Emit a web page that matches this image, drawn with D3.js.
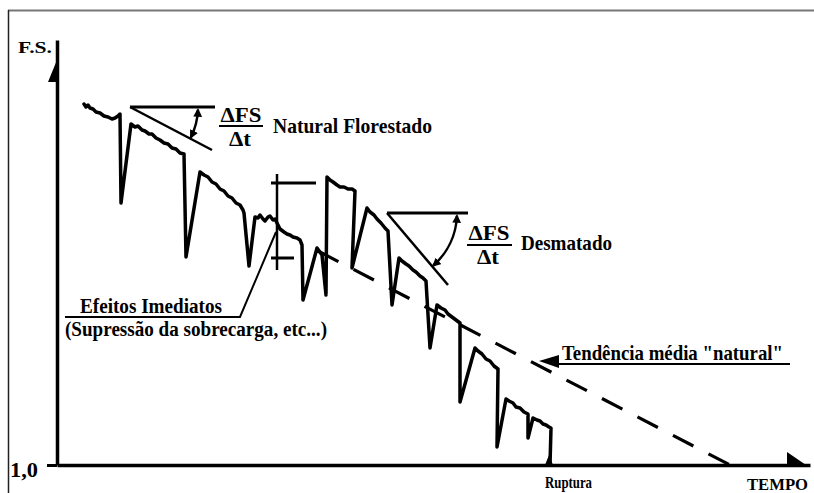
<!DOCTYPE html>
<html><head><meta charset="utf-8">
<script src="https://cdn.jsdelivr.net/npm/d3@7"></script>
<style>
html,body{margin:0;padding:0;background:#fff;} svg{display:block;}
svg text{font-family:"Liberation Serif","DejaVu Serif","Times New Roman",Times,serif;font-weight:bold;}
</style>
</head><body>
<script>
// ---- data (time in arbitrary units, F.S. values) ----
const curveTime = [
  2.7,2.9,3.1,3.3,3.6,3.9,4.3,4.7,5.1,5.5,5.8,6.1,6.3,6.4,
  7.4,7.8,8.1,8.5,8.8,9.2,9.5,9.9,10.3,10.7,11.1,11.5,11.9,12.3,12.7,12.9,
  14.3,14.7,15.1,15.5,15.9,16.3,16.7,17.1,17.5,17.9,18.3,18.6,18.7,19.2,
  19.8,20.1,20.3,20.6,20.8,21.1,21.3,21.6,21.8,22.1,22.3,22.7,23.0,23.3,23.6,24.0,24.3,24.5,24.6,
  26.0,26.5,26.9,27.0,
  27.3,27.6,28.0,28.3,28.7,29.1,29.5,29.8,29.5,
  31.0,31.3,31.7,32.0,32.4,32.8,33.1,33.5,
  34.2,34.5,34.9,35.2,35.6,35.9,36.3,36.6,36.9,37.3,
  38.0,38.4,38.8,39.1,39.5,39.9,40.3,40.3,
  41.8,42.1,42.5,42.9,43.3,43.7,44.1,44.0,
  44.9,45.2,45.6,45.9,46.3,46.7,47.1,47.1,
  47.6,48.0,48.3,48.6,48.9,49.2,49.4,49.3];
const curveFS = [
  4.61,4.58,4.60,4.57,4.56,4.53,4.52,4.49,4.48,4.46,4.47,4.49,4.51,3.62,
  4.41,4.38,4.39,4.35,4.34,4.31,4.31,4.27,4.25,4.22,4.21,4.17,4.16,4.12,4.11,3.08,
  3.93,3.90,3.88,3.83,3.81,3.76,3.74,3.69,3.67,3.62,3.60,3.55,3.52,2.99,
  3.48,3.47,3.50,3.46,3.44,3.48,3.49,3.45,3.46,3.40,3.36,3.33,3.31,3.30,3.28,3.27,3.25,3.20,2.65,
  3.17,3.10,2.70,3.88,
  3.85,3.83,3.80,3.78,3.78,3.76,3.76,3.74,2.97,
  3.57,3.53,3.50,3.46,3.42,3.37,3.34,2.60,
  3.07,3.04,3.01,2.99,2.95,2.93,2.89,2.87,2.84,2.17,
  2.60,2.57,2.55,2.51,2.48,2.45,2.42,1.63,
  2.17,2.14,2.11,2.06,2.04,1.99,1.96,1.18,
  1.66,1.64,1.62,1.58,1.57,1.53,1.51,1.27,
  1.47,1.45,1.44,1.41,1.40,1.38,1.37,1.00];
const trendTime = [26.1, 67.3];
const trendFS = [3.14, 1.00];
const slopeForestTime = [7.3, 15.8, 15.5];   // vertex, horizontal end, slope end
const slopeForestFS = [4.58, 4.58, 4.15];
const slopeDeforTime = [33.0, 41.1, 39.1];
const slopeDeforFS = [3.52, 3.52, 2.80];
const jumpTime = [22.0, 21.4, 25.9, 23.7];    // marker x, bar start, top bar end, bottom bar end
const jumpFS = [3.91, 2.95, 3.82, 3.07];      // marker top, marker bottom, top bar, bottom bar
const ruptureTime = [49.2];
const yTicks = [1.0];
const yTickLabels = ["1,0"];
const axisTitles = ["F.S.", "TEMPO"];
const labels = ["Natural  Florestado", "Desmatado", "Tendência média \"natural\"",
  "Efeitos Imediatos", "(Supressão da sobrecarga, etc...)", "Ruptura"];

const W = 814, H = 493;
const svg = d3.select("body").append("svg").attr("width", W).attr("height", H);
svg.append("rect").attr("width", W).attr("height", H).attr("fill", "#fff");

const x = d3.scaleLinear().domain([0, 75.3]).range([57, 810]);
const y = d3.scaleLinear().domain([1.0, 5.25]).range([465, 40]);

// frame
svg.append("line").attr("x1", 8).attr("x2", W).attr("y1", 10.5).attr("y2", 10.5)
  .attr("stroke", "#777").attr("stroke-width", 2);
svg.append("line").attr("x1", 8.5).attr("x2", 8.5).attr("y1", 10).attr("y2", H)
  .attr("stroke", "#222").attr("stroke-width", 1.5);

// axes
const yAxis = svg.append("g").attr("transform", `translate(${x(0)},0)`)
  .call(d3.axisLeft(y).tickValues(yTicks).tickFormat((d, i) => yTickLabels[i]).tickSize(10).tickSizeOuter(0));
yAxis.attr("font-family", null);
yAxis.select(".domain").attr("stroke", "#000").attr("stroke-width", 3.5);
yAxis.selectAll(".tick line").attr("stroke", "#000").attr("stroke-width", 3);
yAxis.selectAll(".tick text").attr("font-size", 21)
  .attr("fill", "#000").attr("x", -19).attr("dy", "0.55em")
  .attr("textLength", 28).attr("lengthAdjust", "spacingAndGlyphs");

const xAxis = svg.append("g").attr("transform", `translate(0,${y(1.0)})`)
  .call(d3.axisBottom(x).tickValues([]).tickSizeOuter(0));
xAxis.select(".domain").attr("stroke", "#000").attr("stroke-width", 3.5);

// half arrowheads on axes
svg.append("path").attr("d", `M${x(0)},${y(5.05)} L${x(0)},${y(4.83)} L${x(0)-9},${y(4.83)} Z`).attr("fill", "#000");
svg.append("path").attr("d", `M${x(73)},${y(1.13)} L${x(73)},${y(1.0)} L${x(74.9)},${y(1.0)} Z`).attr("fill", "#000");

// trend (dashed)
const pts = (ts, fs) => ts.map((t, i) => [x(t), y(fs[i])]);
svg.append("path").attr("d", d3.line()(pts(trendTime, trendFS)))
  .attr("fill", "none").attr("stroke", "#000").attr("stroke-width", 3.2)
  .attr("stroke-dasharray", "23,17");

// main curve
svg.append("path").attr("d", d3.line()(pts(curveTime, curveFS)))
  .attr("fill", "none").attr("stroke", "#000").attr("stroke-width", 3.5)
  .attr("stroke-linejoin", "round").attr("stroke-linecap", "round");

// rupture marker
const rx = x(ruptureTime[0]);
svg.append("path").attr("d", `M${rx-4},${y(1)} L${rx+4},${y(1)} L${rx},${y(1.1)} Z`).attr("fill", "#000");

// slope triangles
const defs = svg.append("defs");
defs.append("marker").attr("id", "ah").attr("viewBox", "0 0 10 10").attr("refX", 8).attr("refY", 5)
  .attr("markerWidth", 3.5).attr("markerHeight", 3.5).attr("orient", "auto-start-reverse")
  .append("path").attr("d", "M0,0 L10,5 L0,10 Z").attr("fill", "#000");
function slopeTri(ts, fs, r) {
  const v = [x(ts[0]), y(fs[0])], h = [x(ts[1]), y(fs[1])], s = [x(ts[2]), y(fs[2])];
  svg.append("line").attr("x1", v[0]).attr("y1", v[1]).attr("x2", h[0]).attr("y2", h[1])
    .attr("stroke", "#000").attr("stroke-width", 3);
  svg.append("line").attr("x1", v[0]).attr("y1", v[1]).attr("x2", s[0]).attr("y2", s[1])
    .attr("stroke", "#000").attr("stroke-width", 2.5);
  const a1 = Math.atan2(s[1] - v[1], s[0] - v[0]);
  const a0 = 0.04;
  const p0 = [v[0] + r * Math.cos(a0), v[1] + r * Math.sin(a0)];
  const p1 = [v[0] + r * Math.cos(a1 - 0.02), v[1] + r * Math.sin(a1 - 0.02)];
  svg.append("path").attr("d", `M${p0[0]},${p0[1]} A${r},${r} 0 0 1 ${p1[0]},${p1[1]}`)
    .attr("fill", "none").attr("stroke", "#000").attr("stroke-width", 2.5)
    .attr("marker-start", "url(#ah)").attr("marker-end", "url(#ah)");
}
slopeTri(slopeForestTime, slopeForestFS, 68);
slopeTri(slopeDeforTime, slopeDeforFS, 70);

// immediate-effect marker
const jx = x(jumpTime[0]);
svg.append("line").attr("x1", jx).attr("x2", jx).attr("y1", y(jumpFS[0])).attr("y2", y(jumpFS[1]))
  .attr("stroke", "#000").attr("stroke-width", 2.5);
svg.append("line").attr("x1", x(jumpTime[1])).attr("x2", x(jumpTime[2])).attr("y1", y(jumpFS[2])).attr("y2", y(jumpFS[2]))
  .attr("stroke", "#000").attr("stroke-width", 3);
svg.append("line").attr("x1", x(jumpTime[1])).attr("x2", x(jumpTime[3])).attr("y1", y(jumpFS[3])).attr("y2", y(jumpFS[3]))
  .attr("stroke", "#000").attr("stroke-width", 3);

// leader for Efeitos Imediatos
svg.append("path").attr("d", "M65,317 L240,317 L276,232").attr("fill", "none")
  .attr("stroke", "#000").attr("stroke-width", 2);

// Tendência arrow
svg.append("line").attr("x1", 556).attr("x2", 790).attr("y1", 364).attr("y2", 364)
  .attr("stroke", "#000").attr("stroke-width", 2);
svg.append("path").attr("d", "M539,361 L559,355 L559,368 Z").attr("fill", "#000");

// text helper
function txt(s, xx, yy, size, len, anchor) {
  svg.append("text").attr("x", xx).attr("y", yy).text(s)
    .attr("font-size", size)
    .attr("text-anchor", anchor || "start").attr("fill", "#000")
    .attr("textLength", len).attr("lengthAdjust", "spacingAndGlyphs");
}
function frac(cx, by, barY, x0, x1) {
  txt("\u0394FS", cx, by, 20, 41, "middle");
  svg.append("line").attr("x1", x0).attr("x2", x1).attr("y1", barY).attr("y2", barY)
    .attr("stroke", "#000").attr("stroke-width", 2);
  txt("\u0394t", cx - 1, by + 24, 20, 22, "middle");
}
txt(axisTitles[0], 18, 53, 17, 34);
txt(axisTitles[1], 747, 490, 16, 61);
frac(241, 122, 126, 219, 263);
txt(labels[0], 273, 133, 21, 159);
frac(489, 240, 245, 467, 512);
txt(labels[1], 521, 250, 21, 91);
txt(labels[2], 562, 360, 21, 221);
txt(labels[3], 80, 313, 20, 142);
txt(labels[4], 65, 336, 20, 262);
txt(labels[5], 545, 488, 16, 47);
</script>
</body></html>
